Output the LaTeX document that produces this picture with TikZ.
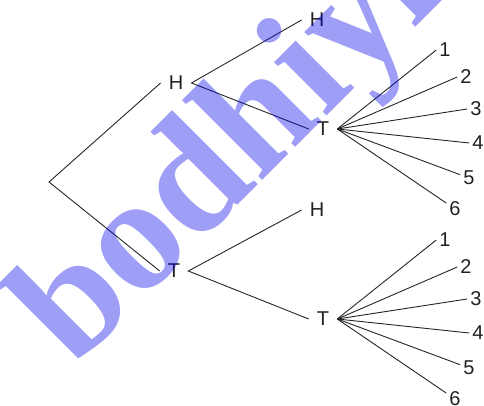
\documentclass[tikz,border=0pt]{standalone}
\usepackage{fontspec}
\setmainfont{Liberation Sans}
\newfontfamily\wmfont{Liberation Serif}
\definecolor{wmblue}{RGB}{0,0,235}
\begin{document}
\begin{tikzpicture}[x=1pt,y=-1pt,
  lbl/.style={font=\fontsize{20}{24}\selectfont, text=black!87, inner ysep=0pt, inner xsep=8pt},
  num/.style={lbl, inner xsep=3pt},
  edge/.style={line width=0.9pt, black!85},
  wmark/.style={rotate=45, anchor=base west, inner sep=0pt, text=wmblue, opacity=0.38,
    font=\wmfont\bfseries\fontsize{163}{163}\selectfont}]
\useasboundingbox (0,0) rectangle (484,406);
% tree nodes
\coordinate (r) at (49,182);
\node[lbl] (h1) at (176,83) {H};
\node[lbl] (t1) at (174,271) {T};
\node[lbl] (hh) at (317,20) {H};
\node[lbl] (ht) at (323,129) {T};
\node[lbl] (th) at (317,210) {H};
\node[lbl] (tt) at (323,319) {T};
% die outcomes
\foreach \i/\x/\y in {1/445/50,2/466/77,3/476/109,4/478/143,5/469/178,6/455/209}
  \node[num] (a\i) at (\x,\y) {\i};
\foreach \i/\x/\y in {1/445/240,2/466/267,3/476/299,4/478/333,5/469/368,6/455/399}
  \node[num] (b\i) at (\x,\y) {\i};
% connectors
\draw[edge] (h1.west) -- (r) -- (t1.west);
\draw[edge] (hh.west) -- (h1.east) -- (ht.west);
\draw[edge] (th.west) -- (t1.east) -- (tt.west);
\foreach \i in {1,2,3,4} {
  \draw[edge] (ht.east) -- (a\i.west);
  \draw[edge] (tt.east) -- (b\i.west);
}
\foreach \i in {5,6} {
  \draw[edge] (ht.east) -- (a\i);
  \draw[edge] (tt.east) -- (b\i);
}
% watermark
\begin{scope}
\clip (0,0) rectangle (484,406);
\node[wmark] (wm) at (74,369) {bodhiyl};
\end{scope}
\end{tikzpicture}
\end{document}
